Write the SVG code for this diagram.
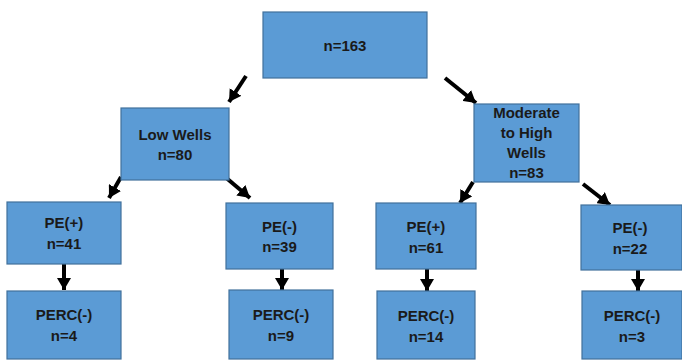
<svg xmlns="http://www.w3.org/2000/svg" width="682" height="360" viewBox="0 0 682 360">
<style>
.box{fill:#5B9BD5;stroke:#41719C;stroke-width:1.2}
.t{font-family:"Liberation Sans",Arial,sans-serif;font-weight:bold;font-size:15px;fill:#1a1a1a;text-anchor:middle}
.c{stroke:#000;stroke-width:4;fill:none;marker-end:url(#ah)}
</style>
<defs>
<marker id="ah" markerUnits="userSpaceOnUse" markerWidth="14" markerHeight="14" refX="12" refY="7" orient="auto">
<path d="M0,0 L12,7 L0,14 Z" fill="#000"/>
</marker>
</defs>
<rect width="682" height="360" fill="#fff"/>
<g id="connectors">
<line class="c" x1="246" y1="76" x2="229" y2="102"/>
<line class="c" x1="445" y1="78" x2="476" y2="103"/>
<line class="c" x1="121" y1="177" x2="109" y2="198"/>
<line class="c" x1="224" y1="176" x2="250" y2="198"/>
<line class="c" x1="473" y1="182" x2="460" y2="203"/>
<line class="c" x1="583" y1="184" x2="610" y2="205"/>
<line class="c" x1="64" y1="264" x2="64" y2="290"/>
<line class="c" x1="282" y1="268" x2="282" y2="290"/>
<line class="c" x1="427" y1="269" x2="427" y2="291"/>
<line class="c" x1="638" y1="270" x2="638" y2="291"/>
</g>
<g id="root"><rect class="box" x="263" y="12" width="164" height="66"/><text class="t" x="345" y="51">n=163</text></g>
<g id="low"><rect class="box" x="121" y="108" width="108" height="72"/><text class="t" x="175" y="140">Low Wells</text><text class="t" x="175" y="160">n=80</text></g>
<g id="mod"><rect class="box" x="474" y="104" width="105" height="78"/><text class="t" x="526.5" y="118">Moderate</text><text class="t" x="526.5" y="138">to High</text><text class="t" x="526.5" y="158">Wells</text><text class="t" x="526.5" y="178">n=83</text></g>
<g id="pe41"><rect class="box" x="7" y="202" width="114" height="62"/><text class="t" x="64" y="228">PE(+)</text><text class="t" x="64" y="249">n=41</text></g>
<g id="perc4"><rect class="box" x="7" y="291" width="114" height="68"/><text class="t" x="64" y="320">PERC(-)</text><text class="t" x="64" y="341">n=4</text></g>
<g id="pe39"><rect class="box" x="226" y="203" width="107" height="66"/><text class="t" x="279.5" y="232">PE(-)</text><text class="t" x="279.5" y="252">n=39</text></g>
<g id="perc9"><rect class="box" x="229" y="290" width="104" height="69"/><text class="t" x="281" y="320">PERC(-)</text><text class="t" x="281" y="341">n=9</text></g>
<g id="pe61"><rect class="box" x="376" y="203" width="100" height="66"/><text class="t" x="426" y="232">PE(+)</text><text class="t" x="426" y="253">n=61</text></g>
<g id="perc14"><rect class="box" x="377" y="291" width="98" height="68"/><text class="t" x="426" y="321">PERC(-)</text><text class="t" x="426" y="342">n=14</text></g>
<g id="pe22"><rect class="box" x="581" y="205" width="101" height="65"/><text class="t" x="630" y="233">PE(-)</text><text class="t" x="630" y="254">n=22</text></g>
<g id="perc3"><rect class="box" x="582" y="291" width="100" height="68"/><text class="t" x="632" y="321">PERC(-)</text><text class="t" x="632" y="342">n=3</text></g>
</svg>
